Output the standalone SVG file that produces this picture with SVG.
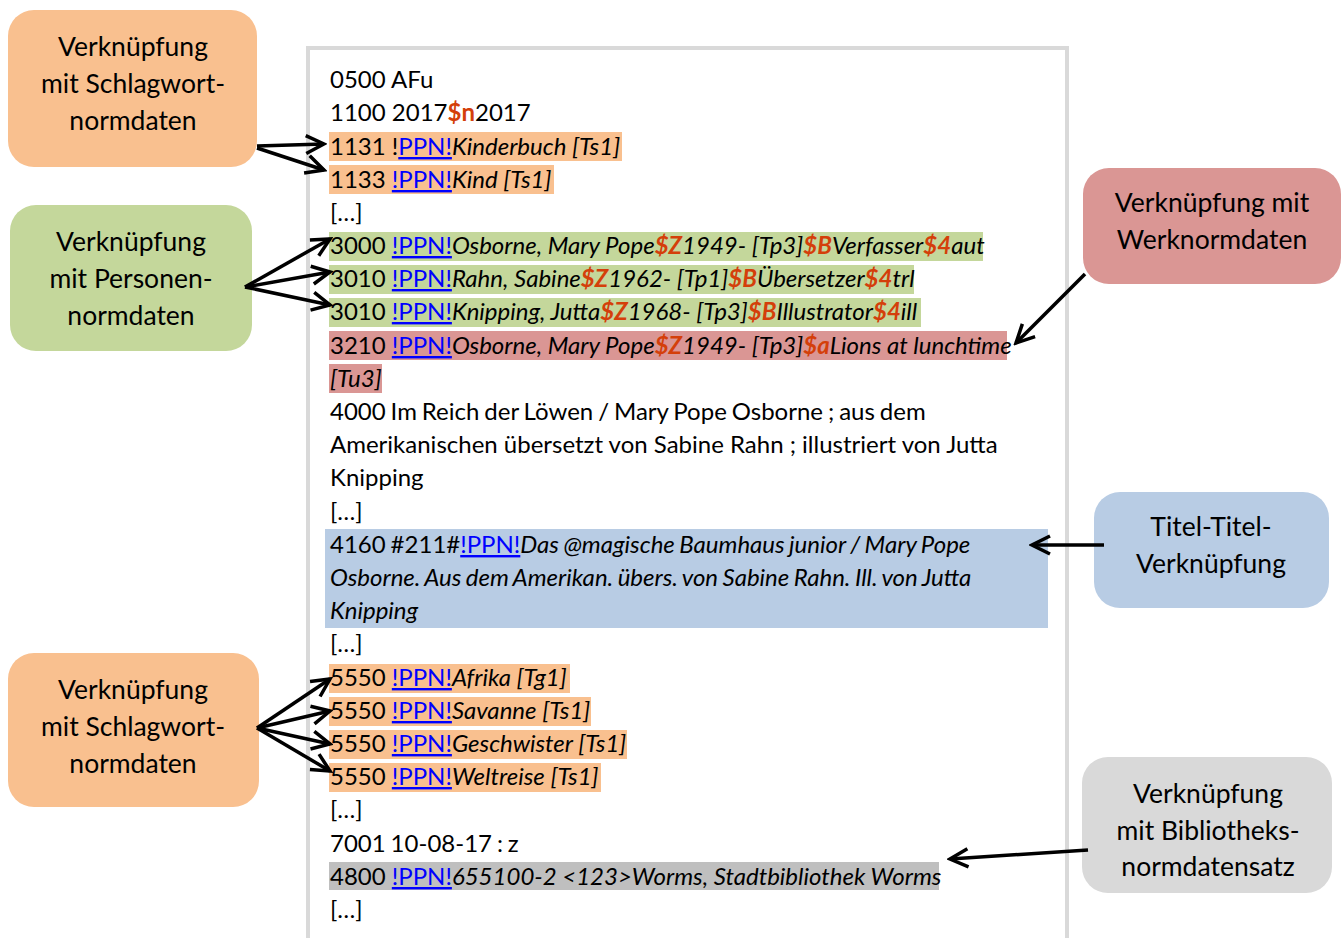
<svg xmlns="http://www.w3.org/2000/svg" width="1341" height="938" viewBox="0 0 1341 938">
<defs>
<style>
.t{font-family:Lato,"Noto Sans",sans-serif;font-size:24px;fill:#000}
.c{font-family:Lato,"Noto Sans",sans-serif;font-size:26.5px;fill:#000;text-anchor:middle}
.i{font-style:italic}
.d{fill:#d43f0a;font-weight:bold}
.l{fill:#0000ff;text-decoration:underline}
.w{word-spacing:-1.2px}
.ar{stroke:#000;stroke-width:3.5;fill:none;marker-end:url(#ah)}
</style>
<marker id="ah" markerUnits="userSpaceOnUse" markerWidth="24" markerHeight="24" viewBox="0 0 24 24" refX="21" refY="12" orient="auto">
<path d="M3,3 L21,12 L3,21" fill="none" stroke="#000" stroke-width="3.5" stroke-linejoin="miter"/>
</marker>
</defs>
<rect width="1341" height="938" fill="#fff"/>
<g id="record">
<rect x="308" y="48" width="759" height="920" fill="#fff" stroke="#d9d9d9" stroke-width="4"/>
<g id="highlights">
<rect x="329" y="132" width="293" height="29" fill="#f9c08f"/>
<rect x="329" y="165" width="225" height="29" fill="#f9c08f"/>
<rect x="329" y="232" width="654" height="29" fill="#c4d79b"/>
<rect x="329" y="265" width="585" height="29" fill="#c4d79b"/>
<rect x="329" y="298" width="592" height="29" fill="#c4d79b"/>
<rect x="329" y="331" width="678" height="29" fill="#da9694"/>
<rect x="329" y="364" width="53" height="29" fill="#da9694"/>
<rect x="325" y="529" width="723" height="99" fill="#b8cce4"/>
<rect x="329" y="664" width="241" height="29" fill="#f9c08f"/>
<rect x="329" y="697" width="262" height="29" fill="#f9c08f"/>
<rect x="329" y="730" width="298" height="29" fill="#f9c08f"/>
<rect x="329" y="763" width="272" height="29" fill="#f9c08f"/>
<rect x="329" y="862" width="610" height="28" fill="#bfbfbf"/>
</g>
<g id="lines" class="t">
<text x="330" y="88">0500 AFu</text>
<text x="330" y="121">1100 2017<tspan class="d">$n</tspan>2017</text>
<text x="330" y="155">1131 !<tspan class="l">PPN!</tspan><tspan class="i">Kinderbuch [Ts1]</tspan></text>
<text x="330" y="188">1133 <tspan class="l">!PPN!</tspan><tspan class="i">Kind [Ts1]</tspan></text>
<text x="330" y="221">[…]</text>
<text x="330" y="254">3000 <tspan class="l">!PPN!</tspan><tspan class="i">Osborne, Mary Pope<tspan class="d">$Z</tspan>1949- [Tp3]<tspan class="d">$B</tspan>Verfasser<tspan class="d">$4</tspan>aut</tspan></text>
<text x="330" y="287">3010 <tspan class="l">!PPN!</tspan><tspan class="i">Rahn, Sabine<tspan class="d">$Z</tspan>1962- [Tp1]<tspan class="d">$B</tspan>Übersetzer<tspan class="d">$4</tspan>trl</tspan></text>
<text x="330" y="320">3010 <tspan class="l">!PPN!</tspan><tspan class="i">Knipping, Jutta<tspan class="d">$Z</tspan>1968- [Tp3]<tspan class="d">$B</tspan>Illustrator<tspan class="d">$4</tspan>ill</tspan></text>
<text x="330" y="354">3210 <tspan class="l">!PPN!</tspan><tspan class="i">Osborne, Mary Pope<tspan class="d">$Z</tspan>1949- [Tp3]<tspan class="d">$a</tspan>Lions at lunchtime</tspan></text>
<text x="330" y="387" class="i">[Tu3]</text>
<text x="330" y="420" class="w">4000 Im Reich der Löwen / Mary Pope Osborne ; aus dem</text>
<text x="330" y="453">Amerikanischen übersetzt von Sabine Rahn ; illustriert von Jutta</text>
<text x="330" y="486">Knipping</text>
<text x="330" y="520">[…]</text>
<text x="330" y="553" class="w">4160 #211#<tspan class="l">!PPN!</tspan><tspan class="i">Das @magische Baumhaus junior / Mary Pope</tspan></text>
<text x="330" y="586" class="i w">Osborne. Aus dem Amerikan. übers. von Sabine Rahn. Ill. von Jutta</text>
<text x="330" y="619" class="i">Knipping</text>
<text x="330" y="652">[…]</text>
<text x="330" y="686">5550 <tspan class="l">!PPN!</tspan><tspan class="i">Afrika [Tg1]</tspan></text>
<text x="330" y="719">5550 <tspan class="l">!PPN!</tspan><tspan class="i">Savanne [Ts1]</tspan></text>
<text x="330" y="752">5550 <tspan class="l">!PPN!</tspan><tspan class="i">Geschwister [Ts1]</tspan></text>
<text x="330" y="785">5550 <tspan class="l">!PPN!</tspan><tspan class="i">Weltreise [Ts1]</tspan></text>
<text x="330" y="818">[…]</text>
<text x="330" y="852" class="w">7001 10-08-17 : z</text>
<text x="330" y="885">4800 <tspan class="l">!PPN!</tspan><tspan class="i">655100-2 &lt;123&gt;Worms, Stadtbibliothek Worms</tspan></text>
<text x="330" y="918">[…]</text>
</g>
</g>
<g id="node-schlagwort-top">
<rect x="8" y="10" width="249" height="157" rx="26" fill="#f9c08f"/>
<text class="c" x="133" y="56">Verknüpfung</text>
<text class="c" x="133" y="93">mit Schlagwort-</text>
<text class="c" x="133" y="130">normdaten</text>
</g>
<g id="node-personen">
<rect x="10" y="205" width="242" height="146" rx="26" fill="#c4d79b"/>
<text class="c" x="131" y="251">Verknüpfung</text>
<text class="c" x="131" y="288">mit Personen-</text>
<text class="c" x="131" y="325">normdaten</text>
</g>
<g id="node-schlagwort-bottom">
<rect x="8" y="653" width="251" height="154" rx="26" fill="#f9c08f"/>
<text class="c" x="133" y="699">Verknüpfung</text>
<text class="c" x="133" y="736">mit Schlagwort-</text>
<text class="c" x="133" y="773">normdaten</text>
</g>
<g id="node-werk">
<rect x="1083" y="168" width="258" height="116" rx="26" fill="#da9694"/>
<text class="c" x="1212" y="212">Verknüpfung mit</text>
<text class="c" x="1212" y="249">Werknormdaten</text>
</g>
<g id="node-titel">
<rect x="1094" y="492" width="235" height="116" rx="26" fill="#b8cce4"/>
<text class="c" x="1211" y="536">Titel-Titel-</text>
<text class="c" x="1211" y="573">Verknüpfung</text>
</g>
<g id="node-bibliothek">
<rect x="1082" y="757" width="250" height="136" rx="26" fill="#d9d9d9"/>
<text class="c" x="1208" y="803">Verknüpfung</text>
<text class="c" x="1208" y="840">mit Bibliotheks-</text>
<text class="c" x="1208" y="876">normdatensatz</text>
</g>
<g id="connectors">
<line class="ar" x1="257" y1="146" x2="324" y2="144"/>
<line class="ar" x1="257" y1="148" x2="324" y2="170"/>
<line class="ar" x1="245" y1="287" x2="330" y2="239"/>
<line class="ar" x1="245" y1="287" x2="330" y2="272"/>
<line class="ar" x1="245" y1="287" x2="330" y2="305"/>
<line class="ar" x1="257" y1="728" x2="330" y2="679"/>
<line class="ar" x1="257" y1="728" x2="330" y2="711"/>
<line class="ar" x1="257" y1="728" x2="330" y2="744"/>
<line class="ar" x1="257" y1="728" x2="330" y2="771"/>
<line class="ar" x1="1085" y1="274" x2="1016" y2="343"/>
<line class="ar" x1="1104" y1="545" x2="1032" y2="545"/>
<line class="ar" x1="1088" y1="850" x2="950" y2="859"/>
</g>
</svg>
